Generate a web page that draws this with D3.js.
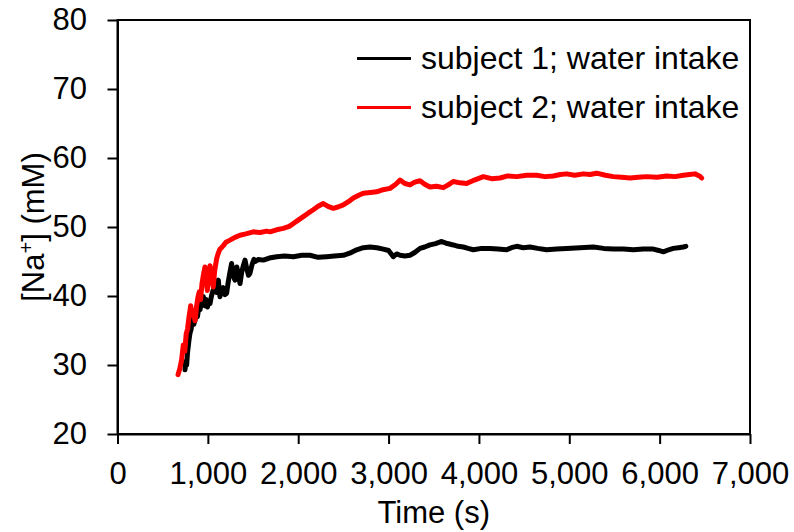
<!DOCTYPE html>
<html>
<head>
<meta charset="utf-8">
<script src="https://cdn.jsdelivr.net/npm/d3@7"></script>
<style>
  html, body { margin: 0; padding: 0; background: #fff; }
  svg { display: block; }
  text { font-family: "Liberation Sans", Arial, sans-serif; fill: #000; }
</style>
</head>
<body>
<svg id="chart" width="794" height="532"></svg>
<script>
// Sodium concentration over time after water intake, two subjects.
const xTicks = [0, 1000, 2000, 3000, 4000, 5000, 6000, 7000];
const yTicks = [20, 30, 40, 50, 60, 70, 80];
const seriesNames = ["subject 1; water intake", "subject 2; water intake"];
const seriesColors = ["#000000", "#ff0000"];

// subject 1: time (s) and [Na+] (mM)
const s1Time = [747, 755, 765, 775, 790, 802, 815, 830, 845, 858, 870, 885, 900, 913, 930, 950, 965, 980, 995, 1010,
  1024, 1040, 1060, 1080, 1100, 1116, 1125, 1134, 1150, 1170, 1190, 1208, 1225, 1245, 1263, 1280, 1300, 1320, 1340, 1356,
  1375, 1395, 1411, 1430, 1450, 1466, 1490, 1510, 1522, 1560, 1614, 1680, 1761, 1850, 1946, 2040, 2130, 2220, 2315, 2400,
  2499, 2570, 2647, 2720, 2794, 2870, 2942, 3000, 3053, 3090, 3127, 3180, 3237, 3290, 3348, 3400, 3458, 3520, 3588, 3650,
  3716, 3770, 3827, 3880, 3938, 4030, 4123, 4210, 4307, 4360, 4418, 4490, 4565, 4650, 4750, 4860, 4971, 5120, 5266, 5380,
  5487, 5600, 5709, 5820, 5930, 5990, 6041, 6100, 6151, 6210, 6262, 6290];
const s1Na = [29.3, 30.5, 30.0, 31.8, 33.5, 34.6, 35.2, 36.8, 35.9, 36.5, 37.8, 37.0, 38.4, 38.0, 39.2, 39.9, 38.6, 39.5, 38.4, 39.2,
  38.9, 40.0, 40.9, 41.6, 40.5, 42.3, 41.0, 39.9, 40.8, 41.2, 40.2, 40.4, 42.0, 43.5, 44.7, 43.0, 42.3, 44.2, 43.0, 41.8,
  43.5, 44.5, 45.2, 44.0, 43.0, 43.3, 44.6, 45.3, 45.0, 45.3, 45.2, 45.5, 45.7, 45.8, 45.7, 45.9, 45.9, 45.6, 45.7, 45.8,
  45.9, 46.2, 46.7, 47.0, 47.1, 47.0, 46.8, 46.6, 45.7, 46.1, 45.9, 45.8, 45.9, 46.3, 46.9, 47.1, 47.4, 47.6, 47.9, 47.6,
  47.4, 47.2, 47.1, 46.9, 46.7, 46.9, 46.9, 46.8, 46.7, 47.0, 47.2, 47.0, 47.1, 46.9, 46.7, 46.8, 46.9, 47.0, 47.1, 46.9,
  46.8, 46.8, 46.7, 46.8, 46.8, 46.6, 46.4, 46.7, 46.9, 47.0, 47.1, 47.2];

// subject 2: time (s) and [Na+] (mM)
const s2Time = [670, 690, 710, 728, 745, 760, 775, 790, 810, 825, 840, 858, 875, 890, 905, 920, 935, 950, 968, 980,
  994, 1010, 1024, 1040, 1060, 1075, 1097, 1115, 1134, 1150, 1171, 1200, 1245, 1300, 1356, 1420, 1503, 1580, 1650, 1688,
  1760, 1835, 1900, 1946, 2000, 2056, 2110, 2167, 2220, 2278, 2330, 2388, 2440, 2499, 2560, 2610, 2670, 2720, 2800, 2868,
  2940, 3016, 3080, 3127, 3180, 3237, 3290, 3348, 3400, 3458, 3530, 3606, 3660, 3716, 3790, 3864, 3950, 4049, 4140, 4233,
  4320, 4418, 4530, 4639, 4730, 4823, 4900, 4971, 5060, 5155, 5230, 5303, 5400, 5487, 5580, 5672, 5760, 5857, 5970, 6078,
  6170, 6262, 6330, 6391, 6440, 6465];
const s2Na = [28.6, 29.5, 30.8, 32.9, 32.0, 34.5, 35.2, 36.8, 38.6, 37.2, 37.9, 36.4, 38.5, 39.8, 40.6, 39.5, 41.8, 43.0, 44.2, 42.5,
  40.8, 42.9, 44.4, 43.0, 41.3, 43.6, 45.4, 46.2, 46.8, 47.0, 47.3, 47.8, 48.1, 48.5, 48.8, 49.0, 49.3, 49.2, 49.4, 49.3,
  49.6, 49.8, 50.1, 50.5, 51.0, 51.5, 52.0, 52.5, 53.0, 53.4, 53.0, 52.7, 52.9, 53.2, 53.7, 54.2, 54.6, 54.9, 55.0, 55.1,
  55.4, 55.6, 56.2, 56.8, 56.3, 56.1, 56.5, 56.7, 56.2, 55.8, 55.9, 55.7, 56.1, 56.6, 56.4, 56.3, 56.8, 57.3, 57.0, 57.1,
  57.4, 57.3, 57.5, 57.5, 57.3, 57.4, 57.6, 57.7, 57.5, 57.7, 57.6, 57.8, 57.5, 57.3, 57.2, 57.1, 57.2, 57.3, 57.2, 57.4,
  57.3, 57.5, 57.6, 57.7, 57.4, 57.1];

const svg = d3.select("#chart");
const plot = { left: 117.5, right: 750, top: 20, bottom: 434 };
const fontSize = 31;
const legendFontSize = 32;

const x = d3.scaleLinear().domain([0, 7000]).range([plot.left, plot.right]);
const y = d3.scaleLinear().domain([20, 80]).range([plot.bottom, plot.top]);

// plot frame
svg.append("rect")
  .attr("x", plot.left).attr("y", plot.top)
  .attr("width", plot.right - plot.left).attr("height", plot.bottom - plot.top)
  .attr("fill", "none").attr("stroke", "#000").attr("stroke-width", 2);

// axes
const xAxis = svg.append("g")
  .attr("transform", `translate(0,${plot.bottom})`)
  .call(d3.axisBottom(x).tickValues(xTicks).tickFormat(d3.format(",")).tickSize(10).tickSizeOuter(0).tickPadding(18));
const yAxis = svg.append("g")
  .attr("transform", `translate(${plot.left},0)`)
  .call(d3.axisLeft(y).tickValues(yTicks).tickSize(10).tickSizeOuter(0).tickPadding(20.5));

[xAxis, yAxis].forEach(g => {
  g.select(".domain").attr("stroke", "#000").attr("stroke-width", 2);
  g.selectAll(".tick line").attr("stroke", "#000").attr("stroke-width", 2);
  g.selectAll(".tick text").attr("font-size", fontSize).attr("font-family", '"Liberation Sans", Arial, sans-serif').attr("fill", "#000");
});
yAxis.selectAll(".tick text").attr("dy", "0.31em");

// axis titles
svg.append("text")
  .attr("x", (plot.left + plot.right) / 2).attr("y", 523)
  .attr("text-anchor", "middle").attr("font-size", fontSize)
  .text("Time (s)");

const yTitle = svg.append("text")
  .attr("transform", `translate(44,${(plot.top + plot.bottom) / 2}) rotate(-90)`)
  .attr("text-anchor", "middle").attr("font-size", fontSize);
yTitle.append("tspan").text("[Na");
yTitle.append("tspan").attr("font-size", fontSize * 0.65).attr("dy", -11).text("+");
yTitle.append("tspan").attr("dy", 11).text("] (mM)");

// data lines
const line = d3.line().x(d => x(d[0])).y(d => y(d[1]));
const series = [
  d3.zip(s1Time, s1Na),
  d3.zip(s2Time, s2Na)
];
series.forEach((pts, i) => {
  svg.append("path")
    .datum(pts)
    .attr("d", line)
    .attr("fill", "none")
    .attr("stroke", seriesColors[i])
    .attr("stroke-width", 5)
    .attr("stroke-linejoin", "round")
    .attr("stroke-linecap", "round");
});

// legend
const legend = svg.append("g");
const legendY = [58.5, 107.5];
seriesNames.forEach((name, i) => {
  legend.append("line")
    .attr("x1", 357).attr("x2", 411)
    .attr("y1", legendY[i]).attr("y2", legendY[i])
    .attr("stroke", seriesColors[i]).attr("stroke-width", 3);
  legend.append("text")
    .attr("x", 421).attr("y", legendY[i] + 10)
    .attr("font-size", legendFontSize)
    .text(name);
});
</script>
</body>
</html>
